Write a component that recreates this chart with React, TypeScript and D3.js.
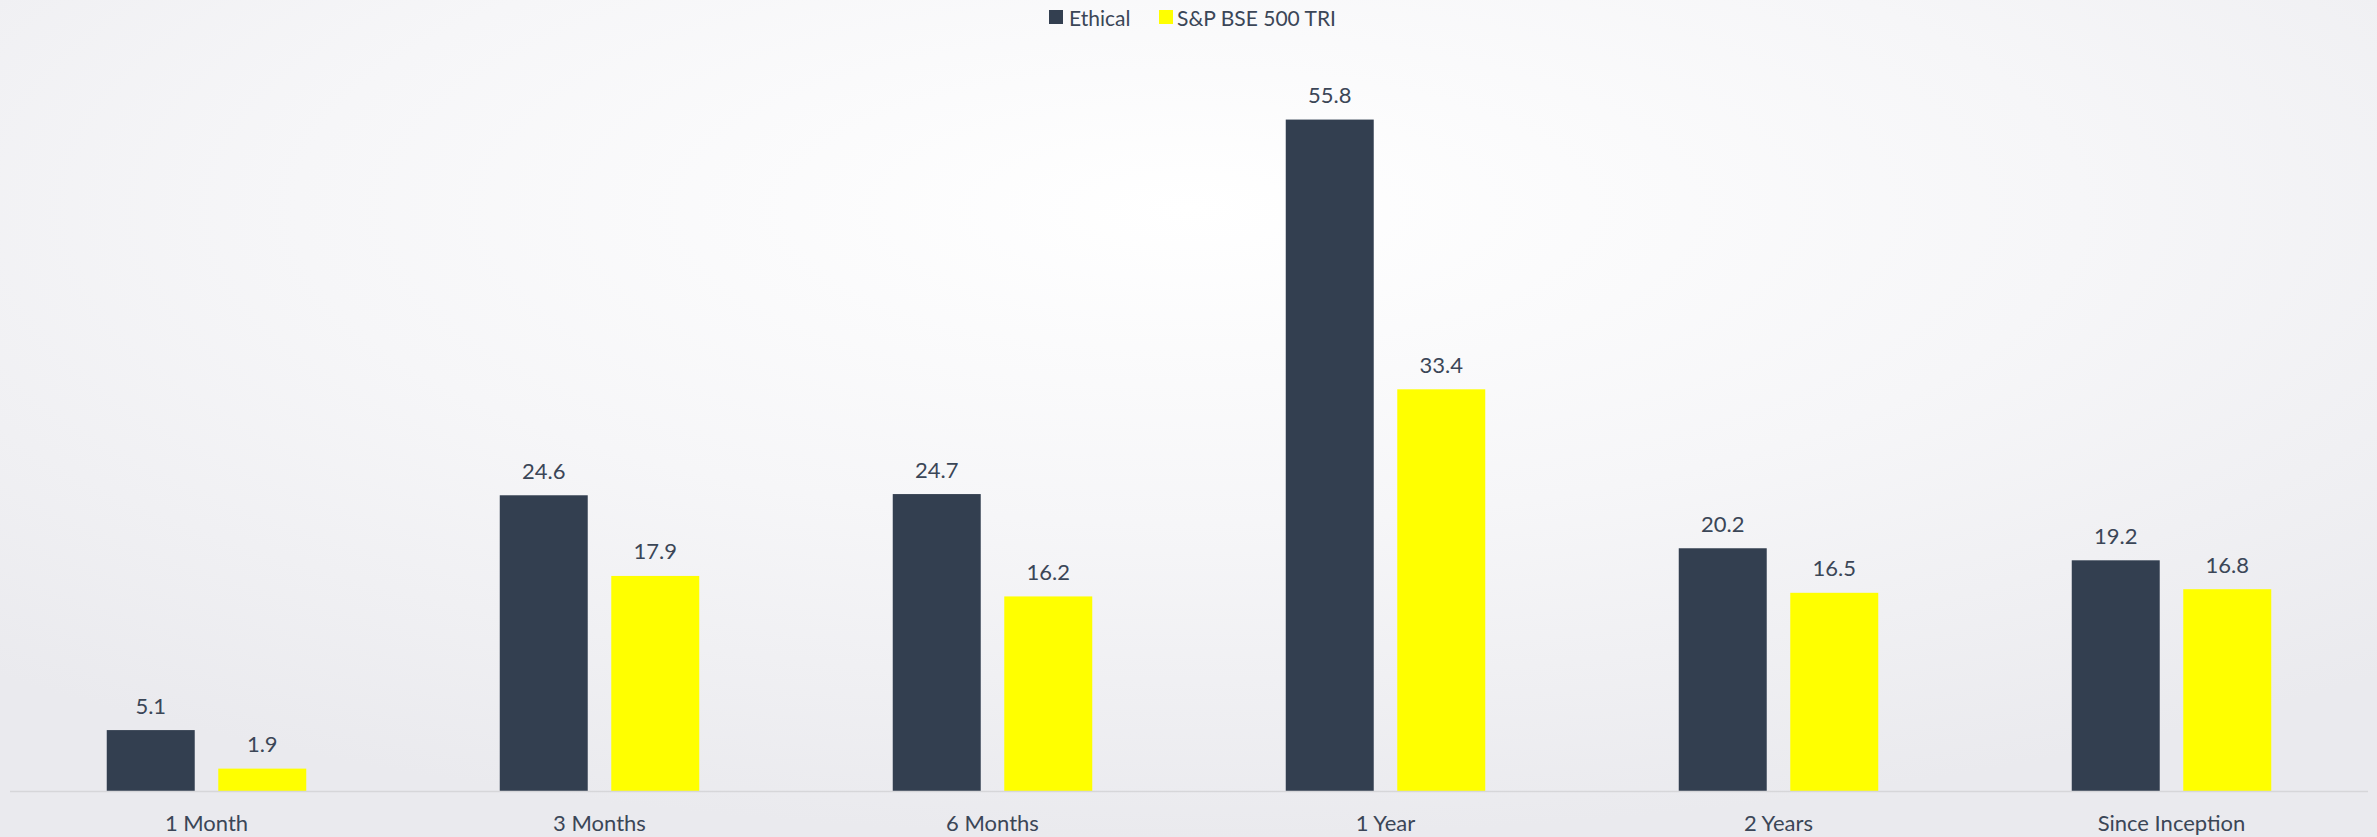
import React from "react";
import * as d3 from "d3";

const categories = ["1 Month", "3 Months", "6 Months", "1 Year", "2 Years", "Since Inception"];
const seriesNames = ["Ethical", "S&P BSE 500 TRI"];
const ethical = [5.1, 24.6, 24.7, 55.8, 20.2, 19.2];
const benchmark = [1.9, 17.9, 16.2, 33.4, 16.5, 16.8];
const seriesColors = ["#333F50", "#FFFF00"];

const W = 2377;
const H = 837;
const FONT = "Lato, 'Open Sans', sans-serif";
const TEXT = "#3B4657";

export default function App() {
  const x0 = d3.scaleBand<string>().domain(categories).range([10, 2368]).paddingInner(0).paddingOuter(0);
  const bw = x0.bandwidth();
  const groupW = 199.5;
  const x1 = d3
    .scaleBand<string>()
    .domain(seriesNames)
    .range([(bw - groupW) / 2, (bw + groupW) / 2])
    .paddingInner(0.211)
    .paddingOuter(0);
  const y = d3.scaleLinear().domain([0, 60]).range([791.5, 69]);
  const values = [ethical, benchmark];

  const legendItems = [
    { name: seriesNames[0], color: seriesColors[0], x: 1049, tx: 1069 },
    { name: seriesNames[1], color: seriesColors[1], x: 1159, tx: 1177 },
  ];

  return (
    <svg
      width={W}
      height={H}
      style={{ position: "absolute", left: 0, top: 0, display: "block" }}
      fontFamily={FONT}
    >
      <defs>
        <radialGradient id="bg" cx="50%" cy="25%" r="75%">
          <stop offset="0%" stopColor="#FFFFFF" />
          <stop offset="50%" stopColor="#F6F6F8" />
          <stop offset="100%" stopColor="#EAEAEE" />
        </radialGradient>
      </defs>
      <rect x={0} y={0} width={W} height={H} fill="url(#bg)" />

      {legendItems.map((d) => (
        <g key={d.name}>
          <rect x={d.x} y={10} width={14} height={14} fill={d.color} />
          <text x={d.tx} y={17} dominantBaseline="central" fontSize={21} fill={TEXT}>
            {d.name}
          </text>
        </g>
      ))}

      {categories.map((c, i) => (
        <g key={c} transform={`translate(${x0(c)},0)`}>
          {seriesNames.map((s, j) => {
            const v = values[j][i];
            const bx = x1(s)!;
            const by = y(v);
            return (
              <g key={s}>
                <rect
                  x={bx}
                  y={by}
                  width={x1.bandwidth()}
                  height={y(0) - by}
                  fill={seriesColors[j]}
                />
                <text
                  x={bx + x1.bandwidth() / 2}
                  y={by - 25}
                  textAnchor="middle"
                  dominantBaseline="central"
                  fontSize={22}
                  fill={TEXT}
                >
                  {v.toFixed(1)}
                </text>
              </g>
            );
          })}
          <text
            x={bw / 2}
            y={822}
            textAnchor="middle"
            dominantBaseline="central"
            fontSize={22}
            fill={TEXT}
          >
            {c}
          </text>
        </g>
      ))}

      <line x1={10} x2={2368} y1={791.5} y2={791.5} stroke="#D6D6D9" strokeWidth={1.5} />
    </svg>
  );
}
